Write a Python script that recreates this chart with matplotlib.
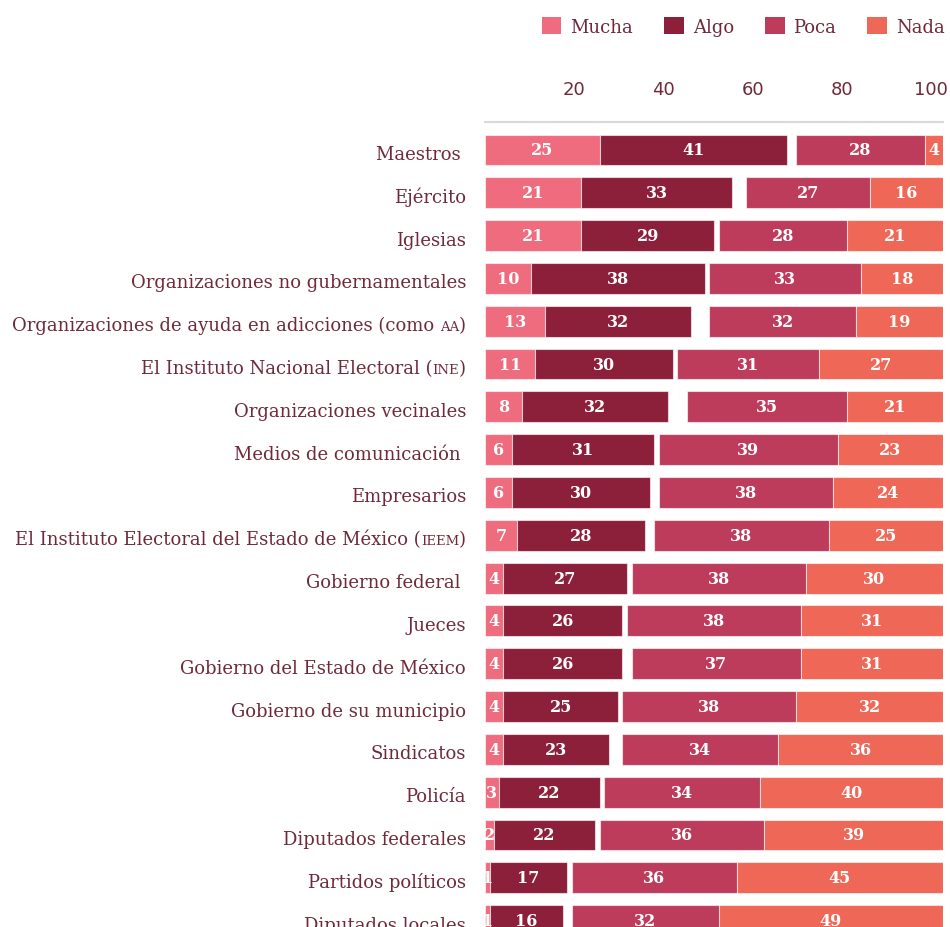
import matplotlib
matplotlib.use("Agg")
import matplotlib.pyplot as plt
import numpy as np
from matplotlib.patches import Patch

categories = [
    "Maestros ", "Ejército", "Iglesias", "Organizaciones no gubernamentales",
    "Organizaciones de ayuda en adicciones (como AA)",
    "El Instituto Nacional Electoral (INE)", "Organizaciones vecinales",
    "Medios de comunicación ", "Empresarios",
    "El Instituto Electoral del Estado de México (IEEM)",
    "Gobierno federal ", "Jueces", "Gobierno del Estado de México",
    "Gobierno de su municipio", "Sindicatos", "Policía",
    "Diputados federales", "Partidos políticos", "Diputados locales",
]
# acronyms shown in small caps
acronyms = ["AA", "INE", "IEEM"]
mucha = [25, 21, 21, 10, 13, 11, 8, 6, 6, 7, 4, 4, 4, 4, 4, 3, 2, 1, 1]
algo = [41, 33, 29, 38, 32, 30, 32, 31, 30, 28, 27, 26, 26, 25, 23, 22, 22, 17, 16]
poca = [28, 27, 28, 33, 32, 31, 35, 39, 38, 38, 38, 38, 37, 38, 34, 34, 36, 36, 32]
nada = [4, 16, 21, 18, 19, 27, 21, 23, 24, 25, 30, 31, 31, 32, 36, 40, 39, 45, 49]
series_names = ["Mucha", "Algo", "Poca", "Nada"]
xticks = [20, 40, 60, 80, 100]

colors = ["#EE6C7E", "#8C1F3A", "#BD3C5C", "#EE6757"]
text_color = "#6E2A3A"

fig = plt.figure(figsize=(9.5, 9.28), dpi=100)
W, H = 950, 928
ax = fig.add_axes([485 / W, 0, 458 / W, (H - 123) / H])

y = np.arange(len(categories))
m = np.array(mucha); a = np.array(algo); p = np.array(poca); n = np.array(nada)
bh = 0.72
lefts = [np.zeros_like(m), m, 100 - p - n, 100 - n]
vals = [m, a, p, n]
for vals_i, left_i, c in zip(vals, lefts, colors):
    ax.barh(y, vals_i, left=left_i, height=bh, color=c,
            edgecolor=(1, 1, 1, 0.6), linewidth=0.8)
    for yi, v, l in zip(y, vals_i, left_i):
        ax.text(l + v / 2, yi, str(v), ha="center", va="center",
                color="white", fontsize=11.5, fontweight="bold",
                family="DejaVu Serif", clip_on=False)

ax.set_xlim(0, 100)
ax.set_ylim(18.15, -0.654)
ax.set_yticks([])
ax.set_xticks([])
for s in ["left", "right", "bottom"]:
    ax.spines[s].set_visible(False)
ax.spines["top"].set_color("#D9D9D9")
ax.spines["top"].set_linewidth(1.5)

# category labels, drawn piecewise so acronyms appear in small caps
renderer = fig.canvas.get_renderer()
pad_px = 19
base_off = -9.0
label_font = dict(family="DejaVu Serif", color=text_color)
for yi, cat in zip(y, categories):
    acr = next((ac for ac in acronyms if cat.endswith(ac + ")")), None)
    if acr:
        main = cat[: -(len(acr) + 1)]
        pieces = [(")", 13), (acr, 9.5), (main, 13)]
    else:
        pieces = [(cat, 13)]
    cum = 0.0
    for txt, size in pieces:
        t = ax.annotate(txt, xy=(0, yi), xycoords=ax.get_yaxis_transform(),
                        xytext=(-pad_px - cum, base_off),
                        textcoords="offset pixels", ha="right", va="baseline",
                        fontsize=size, annotation_clip=False, **label_font)
        bb = t.get_window_extent(renderer)
        cum += bb.width

ax2 = ax.twiny()
ax2.set_xlim(0, 102.7)
ax2.set_xticks(xticks)
ax2.set_xticklabels([str(t) for t in xticks], fontsize=13, color=text_color,
                    family="DejaVu Sans")
ax2.tick_params(axis="x", length=0, pad=17)
for s in ax2.spines.values():
    s.set_visible(False)

handles = [Patch(facecolor=c, edgecolor="none") for c in colors]
leg = fig.legend(handles, series_names, loc="upper right",
                 bbox_to_anchor=(961 / W, 0.998), ncol=4, frameon=False,
                 handlelength=1.1, handleheight=1.1, handletextpad=0.5,
                 columnspacing=1.7,
                 prop={"family": "DejaVu Serif", "size": 13})
for t in leg.get_texts():
    t.set_color(text_color)

fig.savefig("out.png", dpi=100)
